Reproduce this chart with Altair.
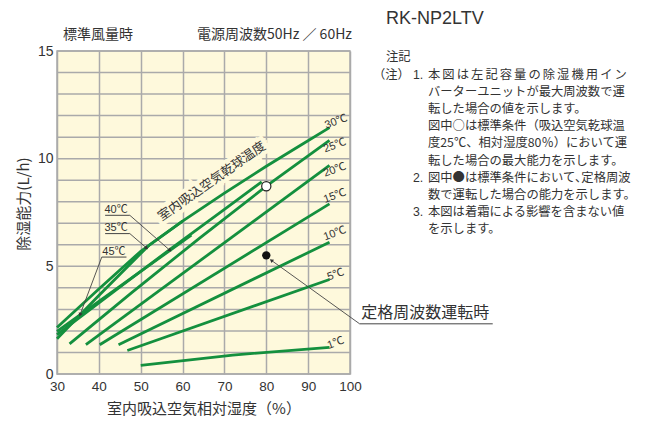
import math
import altair as alt
import pandas as pd

# ---------------- layout / style ----------------
W, H = 293, 323
X_DOMAIN = [30, 100]
Y_DOMAIN = [0, 15]
GREEN = "#14903e"
BG = "#fef9dc"
GRID = "#aaaaaa"
INK = "#333333"
JP = "Noto Sans CJK JP"
LAT = "Liberation Sans, Noto Sans CJK JP"

# ---------------- data ----------------
x_ticks = [30, 40, 50, 60, 70, 80, 90, 100]
y_ticks = [0, 5, 10, 15]
y_grid = list(range(0, 16))
x_title = "室内吸込空気相対湿度（%）"
y_title = "除湿能力(L/h)"

curve_temps = ["30℃", "35℃", "40℃", "45℃", "25℃", "20℃", "15℃", "10℃", "5℃", "1℃"]
rh_30 = [30, 40, 50, 60, 70, 80, 88, 95.1]
cap_30 = [2.16, 3.95, 5.7, 7.1, 8.4, 9.65, 10.6, 11.44]
rh_35 = [30, 40, 50, 52, 60]
cap_35 = [1.64, 3.65, 5.6, 5.98, 7.1]
rh_40 = [30, 45, 57.4, 70, 78.9]
cap_40 = [1.83, 4.03, 5.85, 7.65, 8.92]
rh_45 = [30, 62.1]
cap_45 = [1.98, 6.45]
rh_25 = [33, 48, 64, 80, 95.1]
cap_25 = [1.4, 3.8, 6.3, 8.72, 10.85]
rh_20 = [36.9, 95.1]
cap_20 = [1.36, 9.69]
rh_15 = [40.2, 95.1]
cap_15 = [1.36, 7.9]
rh_10 = [44.7, 95.1]
cap_10 = [1.36, 6.12]
rh_5 = [46.8, 95.1]
cap_5 = [1.09, 4.39]
rh_1 = [50, 72, 95.1]
cap_1 = [0.4, 0.88, 1.24]
curve_rh = [rh_30, rh_35, rh_40, rh_45, rh_25, rh_20, rh_15, rh_10, rh_5, rh_1]
curve_cap = [cap_30, cap_35, cap_40, cap_45, cap_25, cap_20, cap_15, cap_10, cap_5, cap_1]

# labels at the right-hand ends of the curves
end_label_text = ["30℃", "25℃", "20℃", "15℃", "10℃", "5℃", "1℃"]
end_label_rh = [96.7, 96.4, 96.4, 96.4, 96.4, 96.6, 96.6]
end_label_cap = [11.71, 10.6, 9.47, 8.26, 6.52, 4.61, 1.43]

# labels with leader lines
lead_text = ["40℃", "35℃", "45℃"]
lead_text_rh = [44.1, 44.1, 43.6]
lead_text_cap = [7.62, 6.76, 5.68]
lead_under_rh = [41.5, 41.5, 40.7]
lead_under_rh2 = [47.4, 47.4, 46.6]
lead_under_cap = [7.37, 6.52, 5.43]
lead_from_rh = [47.4, 47.4, 40.7]
lead_tip_rh = [57.0, 51.4, 35.5]
lead_tip_cap = [5.74, 5.85, 2.75]

# standard-condition points
max_point_rh = [80]
max_point_cap = [8.72]
rated_point_rh = [80]
rated_point_cap = [5.51]
rated_label = "定格周波数運転時"
rated_label_rh = [102.7]
rated_label_cap = [2.81]
rated_under_rh = [102.3]
rated_under_rh2 = [134.1]
rated_under_cap = [2.33]
rated_tip_rh = [81.2]
rated_tip_cap = [5.28]

diag_text = "室内吸込空気乾球温度"
diag_rh = [67.0]
diag_cap = [8.95]

header_left = "標準風量時"
header_right = "電源周波数50Hz ／ 60Hz"
model_name = "RK-NP2LTV"
notes_title = "注記"
notes_prefix = "（注）"
note_lines = [
    "\u2006".join("本図は左記容量の除湿機用イン"),
    "バーターユニットが最大周波数で運",
    "転した場合の値を示します。",
    "図中○は標準条件（吸込空気乾球温",
    "度25℃、相対湿度80％）において運",
    "転した場合の最大能力を示します。",
    "図中●は標準条件において､定格周波",
    "数で運転した場合の能力を示します。",
    "本図は着霜による影響を含まない値",
    "を示します。",
]
note_numbers = {0: "1.", 6: "2.", 8: "3."}

# ---------------- tables ----------------
rows = []
for t, xs, ys in zip(curve_temps, curve_rh, curve_cap):
    for i, (a, b) in enumerate(zip(xs, ys)):
        rows.append({"temp": t, "i": i, "rh": a, "cap": b})
curves = pd.DataFrame(rows)

end_df = pd.DataFrame({"t": end_label_text, "rh": end_label_rh, "cap": end_label_cap})
lead_txt_df = pd.DataFrame({"t": lead_text, "rh": lead_text_rh, "cap": lead_text_cap})
under_df = pd.DataFrame({"rh": lead_under_rh + rated_under_rh,
                         "rh2": lead_under_rh2 + rated_under_rh2,
                         "cap": lead_under_cap + rated_under_cap})
leader_df = pd.DataFrame({"rh": lead_from_rh + rated_under_rh,
                          "cap": lead_under_cap + rated_under_cap,
                          "rh2": lead_tip_rh + rated_tip_rh,
                          "cap2": lead_tip_cap + rated_tip_cap})


def arrow_angle(r):
    dx = (r.rh2 - r.rh) * W / (X_DOMAIN[1] - X_DOMAIN[0])
    dy = -(r.cap2 - r.cap) * H / (Y_DOMAIN[1] - Y_DOMAIN[0])
    return math.degrees(math.atan2(dx, -dy)) % 360


leader_df["ang"] = leader_df.apply(arrow_angle, axis=1)

X = lambda f="rh": alt.X(f"{f}:Q", scale=alt.Scale(domain=X_DOMAIN))
Y = lambda f="cap": alt.Y(f"{f}:Q", scale=alt.Scale(domain=Y_DOMAIN))

x_axis = alt.Axis(values=x_ticks, grid=True, ticks=False, domain=False,
                  labelFont=LAT, labelFontSize=13.5, labelColor=INK, labelPadding=5,
                  labelFlush=False, title=x_title, titleFont=JP,
                  titleFontSize=15, titleFontWeight="normal", titleColor=INK,
                  titlePadding=9, gridColor=GRID, gridWidth=1.5)
y_axis = alt.Axis(values=y_ticks, grid=False, ticks=False, domain=False,
                  labelFont=LAT, labelFontSize=14, labelColor=INK, labelPadding=4,
                  labelFlush=False, labelOverlap=False, title=None)

# ---------------- layers ----------------
hgrid = alt.Chart(pd.DataFrame({"cap": y_grid})).mark_rule(
    color=GRID, strokeWidth=1.5).encode(y=Y())

halo = alt.Chart(pd.DataFrame({"rh": diag_rh, "cap": diag_cap})).mark_text(
    text=diag_text, font=JP, fontSize=12.8, angle=325, fill=BG, stroke=BG, strokeWidth=8
).encode(x=X(), y=Y())

lines = alt.Chart(curves).mark_line(color=GREEN, strokeWidth=2.8).encode(
    x=alt.X("rh:Q", scale=alt.Scale(domain=X_DOMAIN), axis=x_axis),
    y=alt.Y("cap:Q", scale=alt.Scale(domain=Y_DOMAIN), axis=y_axis),
    detail="temp:N", order="i:Q")

end_labels = alt.Chart(end_df).mark_text(
    font=LAT, fontSize=11, color=INK, angle=340, align="center", baseline="middle"
).encode(x=X(), y=Y(), text="t:N")

lead_labels = alt.Chart(lead_txt_df).mark_text(
    font=LAT, fontSize=11, color=INK, align="center", baseline="middle"
).encode(x=X(), y=Y(), text="t:N")

underlines = alt.Chart(under_df).mark_rule(color="#444444", strokeWidth=1).encode(
    x=X(), x2="rh2:Q", y=Y())

leaders = alt.Chart(leader_df).mark_rule(color="#444444", strokeWidth=0.9).encode(
    x=X(), x2="rh2:Q", y=Y(), y2="cap2:Q")

heads = alt.Chart(leader_df).mark_point(
    shape="triangle-up", filled=True, color="#333333", size=18, opacity=1
).encode(x=X("rh2"), y=Y("cap2"), angle=alt.Angle("ang:Q", scale=None))

open_pt = alt.Chart(pd.DataFrame({"rh": max_point_rh, "cap": max_point_cap})).mark_point(
    shape="circle", filled=True, fill="white", stroke="#222222", strokeWidth=1.2, size=85, opacity=1
).encode(x=X(), y=Y())

dot_pt = alt.Chart(pd.DataFrame({"rh": rated_point_rh, "cap": rated_point_cap})).mark_point(
    shape="circle", filled=True, color="#111111", size=70, opacity=1
).encode(x=X(), y=Y())

rated_txt = alt.Chart(pd.DataFrame({"rh": rated_label_rh, "cap": rated_label_cap})).mark_text(
    text=rated_label, font=JP, fontSize=16, color=INK, align="left", baseline="middle"
).encode(x=X(), y=Y())

diag = alt.Chart(pd.DataFrame({"rh": diag_rh, "cap": diag_cap})).mark_text(
    text=diag_text, font=JP, fontSize=12.8, angle=325, color=INK
).encode(x=X(), y=Y())


def px_text(text, x, y, size, font=JP, align="left", color=INK, angle=0):
    return alt.Chart(pd.DataFrame({"t": [text]})).mark_text(
        font=font, fontSize=size, color=color, align=align, baseline="middle", angle=angle
    ).encode(text="t:N", x=alt.value(x), y=alt.value(y))


texts = [
    px_text(y_title, -33, 153, 15, align="center", angle=270),
    px_text(header_left, 6, -16, 14),
    px_text(header_right, 295, -16, 14, align="right"),
    px_text(model_name, 329, -32, 18, font=LAT),
    px_text(notes_title, 329, 6, 12.3),
    px_text(notes_prefix, 316, 24, 12.3),
]
for i, line in enumerate(note_lines):
    yy = 24 + 17.1 * i
    texts.append(px_text(line, 371, yy, 12.3))
    if i in note_numbers:
        texts.append(px_text(note_numbers[i], 356, yy, 12.3, font=LAT))

chart = alt.layer(
    hgrid, halo, lines, end_labels, underlines, leaders, heads, lead_labels,
    open_pt, dot_pt, rated_txt, diag, *texts
).properties(
    width=W, height=H,
    autosize=alt.AutoSizeParams(type="none"),
    padding={"left": 49, "top": 43, "right": 306, "bottom": 45},
).configure_view(fill=BG, stroke=GRID, strokeWidth=1.5)

chart.save("out.html", embed_options={"renderer": "svg", "actions": False})
